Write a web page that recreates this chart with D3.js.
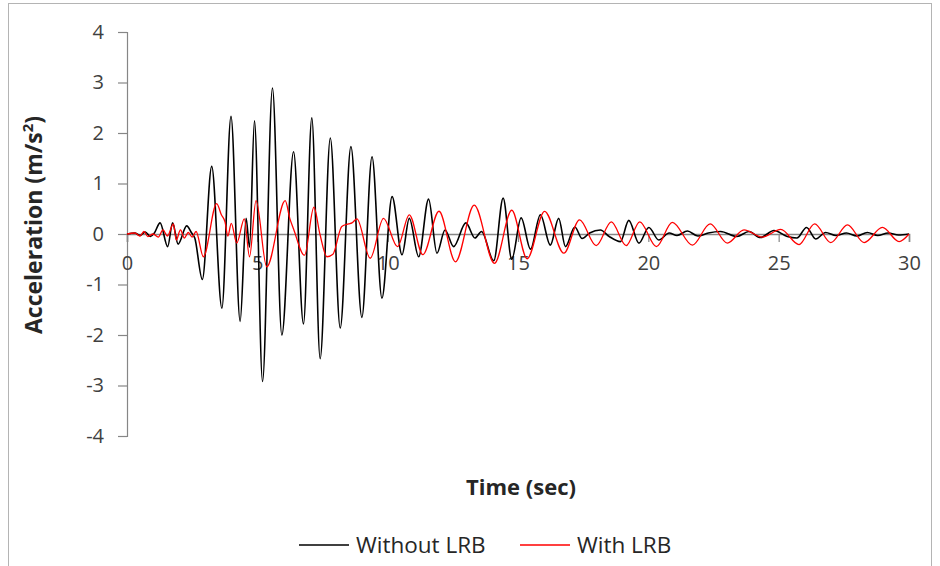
<!DOCTYPE html>
<html>
<head>
<meta charset="utf-8">
<script src="https://cdn.jsdelivr.net/npm/d3@7"></script>
<style>
  html, body { margin: 0; padding: 0; background: #fff; }
  svg { display: block; }
  text { font-family: "Open Sans", "Liberation Sans", sans-serif; }
</style>
</head>
<body>
<svg id="chart" width="940" height="566"></svg>
<script>
// ---- data (time in s, acceleration in m/s^2) ----
const withoutLRB = [
  [0,0],[0.3,0.02],[0.5,-0.03],[0.7,0.04],[0.9,-0.05],[1.05,0.02],[1.27,0.22],[1.56,-0.25],
  [1.75,0.22],[1.96,-0.2],[2.29,0.16],[2.48,0.02],[2.6,-0.08],[2.89,-0.9],[3.25,1.34],[3.64,-1.47],
  [3.99,2.33],[4.34,-1.73],[4.57,0.31],[4.7,-0.26],[4.89,2.24],[5.2,-2.92],[5.58,2.89],[5.94,-2.0],
  [6.39,1.63],[6.77,-1.78],[7.09,2.30],[7.41,-2.47],[7.8,1.90],[8.18,-1.86],[8.59,1.73],[9.01,-1.65],
  [9.40,1.53],[9.78,-1.27],[10.17,0.74],[10.55,-0.41],[10.83,0.31],[11.19,-0.45],[11.57,0.69],
  [11.89,-0.38],[12.2,0.08],[12.53,-0.25],[13.0,0.22],[13.35,-0.08],[13.6,0.05],[14.07,-0.53],
  [14.43,0.71],[14.76,-0.5],[15.12,0.32],[15.48,-0.3],[15.86,0.38],[16.24,-0.22],[16.56,0.31],
  [16.82,-0.25],[17.18,0.14],[17.46,-0.09],[17.75,0.02],[18.16,0.08],[18.5,-0.05],[18.93,-0.15],
  [19.25,0.27],[19.64,-0.18],[20.02,0.13],[20.4,-0.12],[20.8,0.02],[21.1,-0.03],[21.5,0.06],
  [21.9,-0.04],[22.3,0.02],[22.77,0.05],[23.4,-0.05],[23.86,0.05],[24.3,-0.07],[24.82,0.07],
  [25.33,-0.05],[25.7,-0.08],[26.07,0.13],[26.42,-0.1],[26.8,0.03],[27.2,-0.03],[27.6,0.02],
  [28.0,-0.04],[28.4,0.03],[28.8,-0.03],[29.2,0.02],[29.6,-0.02],[30,0]
];
const withLRB = [
  [0,0],[0.3,0.02],[0.5,-0.04],[0.65,0.05],[0.8,-0.05],[1.0,0.0],[1.2,-0.06],[1.38,0.08],
  [1.55,-0.04],[1.78,0.2],[1.89,-0.12],[2.05,0.08],[2.2,-0.08],[2.35,0.03],[2.5,-0.06],[2.65,0.05],
  [2.93,-0.45],[3.44,0.6],[3.62,0.38],[3.76,0.24],[3.87,-0.04],[4.0,0.21],[4.21,-0.18],[4.5,0.3],
  [4.7,-0.45],[4.95,0.66],[5.36,-0.65],[6.07,0.66],[6.25,0.3],[6.39,0.1],[6.81,-0.42],[7.17,0.53],
  [7.4,0.0],[7.67,-0.45],[7.9,-0.4],[8.24,0.15],[8.5,0.2],[8.63,0.22],[8.82,0.3],[9.33,-0.48],
  [9.84,0.31],[10.38,-0.25],[10.83,0.38],[11.35,-0.41],[11.97,0.45],[12.6,-0.55],[13.32,0.57],
  [14.1,-0.58],[14.76,0.47],[15.35,-0.49],[16.02,0.45],[16.76,-0.38],[17.36,0.28],[18.0,-0.23],
  [18.58,0.24],[19.15,-0.23],[19.67,0.24],[20.31,-0.25],[20.92,0.23],[21.69,-0.22],[22.37,0.2],
  [23.03,-0.18],[23.67,0.08],[24.37,-0.06],[25.08,0.09],[25.78,-0.21],[26.38,0.2],[27.0,-0.17],
  [27.64,0.18],[28.28,-0.17],[28.98,0.13],[29.62,-0.15],[30,0]
];
const xTicks = [0, 5, 10, 15, 20, 25, 30];
const yTicks = [-4, -3, -2, -1, 0, 1, 2, 3, 4];
const seriesNames = ["Without LRB", "With LRB"];
const seriesColors = ["#000000", "#ff0000"];

// ---- layout ----
const svg = d3.select("#chart");
const x = d3.scaleLinear().domain([0, 30]).range([127, 909]);
const y = d3.scaleLinear().domain([-4, 4]).range([436, 32]);
const axisColor = "#868686";
const fmt = d => String(d);

// outer frame
svg.append("rect").attr("x", 8.5).attr("y", 3.5).attr("width", 923).attr("height", 620)
  .attr("fill", "none").attr("stroke", "#b4b4b4").attr("stroke-width", 1);

// y axis
const yAxis = d3.axisLeft(y).tickValues(yTicks).tickSize(9).tickPadding(14).tickFormat(fmt);
const gy = svg.append("g").attr("transform", `translate(${x(0)},0)`).call(yAxis);
gy.select(".domain").attr("stroke", axisColor).attr("stroke-width", 1.2);
gy.selectAll(".tick line").attr("stroke", axisColor).attr("stroke-width", 1.2);
gy.selectAll(".tick text").attr("fill", "#404040").style("font-size", "20px")
  .style("font-family", "'Open Sans', sans-serif");

// x axis at y=0
const xAxis = d3.axisBottom(x).tickValues(xTicks).tickSize(8).tickPadding(14).tickFormat(fmt);
const gx = svg.append("g").attr("transform", `translate(0,${y(0)})`).call(xAxis);
gx.select(".domain").attr("stroke", axisColor).attr("stroke-width", 1.6);
gx.selectAll(".tick line").attr("stroke", axisColor).attr("stroke-width", 1.2);
gx.selectAll(".tick text").attr("fill", "#404040").style("font-size", "20px")
  .style("font-family", "'Open Sans', sans-serif");

// lines
const line = d3.line().x(d => x(d[0])).y(d => y(d[1])).curve(d3.curveMonotoneX);
svg.append("path").datum(withoutLRB).attr("d", line).attr("fill", "none")
  .attr("stroke", seriesColors[0]).attr("stroke-width", 1.6).attr("stroke-linejoin", "round");
svg.append("path").datum(withLRB).attr("d", line).attr("fill", "none")
  .attr("stroke", seriesColors[1]).attr("stroke-width", 1.3).attr("stroke-linejoin", "round");

// axis titles
svg.append("text").attr("x", 521).attr("y", 495).attr("text-anchor", "middle")
  .attr("fill", "#262626").style("font-size", "22px").style("font-weight", "bold")
  .text("Time (sec)");
svg.append("text").attr("transform", "translate(42,225) rotate(-90)").attr("text-anchor", "middle")
  .attr("fill", "#262626").style("font-size", "23px").style("font-weight", "bold")
  .html("Acceleration (m/s<tspan font-size='15px' dy='-9'>2</tspan><tspan dy='9'>)</tspan>");

// legend
const legendX = [299, 520];
seriesNames.forEach((name, i) => {
  svg.append("line").attr("x1", legendX[i]).attr("x2", legendX[i] + 50)
    .attr("y1", 545).attr("y2", 545).attr("stroke", seriesColors[i]).attr("stroke-width", 1.5);
  svg.append("text").attr("x", legendX[i] + 57).attr("y", 553).attr("fill", "#262626")
    .style("font-size", "22.5px").text(name);
});
</script>
</body>
</html>
